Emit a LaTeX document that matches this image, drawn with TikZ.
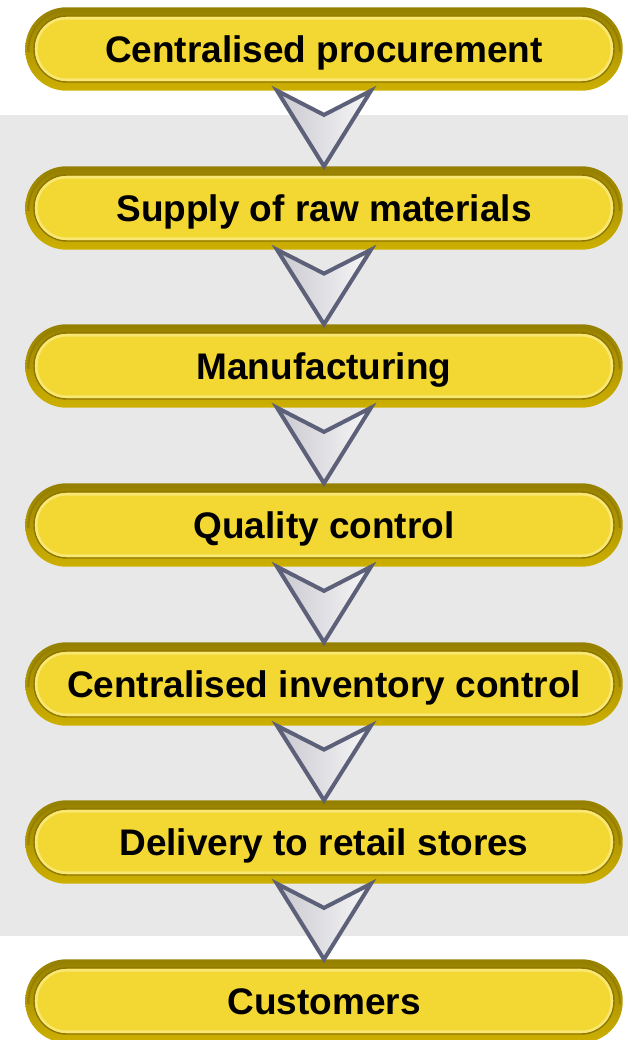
\documentclass[tikz,border=0pt]{standalone}
\usepackage{fontspec}
\setmainfont{Liberation Sans}
\usetikzlibrary{calc,backgrounds}

\definecolor{band}{RGB}{232,232,232}
\definecolor{bodyyellow}{RGB}{243,215,50}
\definecolor{rimdark}{RGB}{150,128,0}
\definecolor{rimmid}{RGB}{240,212,36}
\definecolor{rimlow}{RGB}{206,176,0}
\definecolor{ringline}{RGB}{140,118,6}
\definecolor{glow}{RGB}{250,236,130}
\definecolor{chevedge}{RGB}{92,96,120}
\definecolor{chevlight}{RGB}{248,248,248}
\definecolor{chevshade}{RGB}{200,200,208}

\begin{document}
\begin{tikzpicture}[x=1pt,y=-1pt,
  stepbox/.style={draw=ringline, line width=1.4pt, fill=bodyyellow,
    rounded corners=33pt, minimum width=580pt, minimum height=66pt,
    inner sep=0pt, text height=26.5pt, text depth=0pt,
    font=\fontsize{37pt}{44pt}\selectfont\bfseries, text=black},
  rim/.style={top color=rimdark, middle color=rimmid, bottom color=rimlow,
    rounded corners=41pt},
  rimtop/.style={draw=rimdark, line width=2pt, rounded corners=40pt},
  glowline/.style={draw=glow, line width=2.5pt, rounded corners=30pt, opacity=0.8},
  chev/.style={draw=chevedge, line width=4pt, line join=miter,
    left color=chevshade, right color=chevlight}
]
\useasboundingbox (0,0) rectangle (628,1040);

% process steps
\node[stepbox] (b1) at (324,49)   {Centralised procurement};
\node[stepbox] (b2) at (324,208)  {Supply of raw materials};
\node[stepbox] (b3) at (324,366)  {Manufacturing};
\node[stepbox] (b4) at (324,525)  {Quality control};
\node[stepbox] (b5) at (324,684)  {Centralised inventory control};
\node[stepbox] (b6) at (324,842)  {Delivery to retail stores};
\node[stepbox] (b7) at (324,1001) {Customers};

% grey band and golden rims behind the steps
\begin{scope}[on background layer]
  \fill[band] (0,115) rectangle (628,936);
  \foreach \k in {1,...,7} {
    \shade[rim] ([xshift=-8pt,yshift=-8pt]b\k.south west)
      rectangle ([xshift=8pt,yshift=8pt]b\k.north east);
    % darker lip along the top of the rim
    \draw[rimtop] ([xshift=-5pt,yshift=-3pt]b\k.west)
      -- ([xshift=-5pt,yshift=5pt]b\k.north west)
      -- ([xshift=5pt,yshift=5pt]b\k.north east)
      -- ([xshift=5pt,yshift=-3pt]b\k.east);
  }
\end{scope}

% inner highlight of each step
\foreach \k in {1,...,7}
  \draw[glowline] ([xshift=3pt,yshift=3pt]b\k.south west)
    rectangle ([xshift=-3pt,yshift=-3pt]b\k.north east);

% chevron connectors
\foreach \a/\b in {b1/b2,b2/b3,b3/b4,b4/b5,b5/b6,b6/b7}
  \draw[chev] ([xshift=-47pt,yshift=-8pt]\a.south)
    -- ($([yshift=-8pt]\a.south)!0.32!([yshift=8pt]\b.north)$)
    -- ([xshift=47pt,yshift=-8pt]\a.south)
    -- ([yshift=8pt]\b.north) -- cycle;
\end{tikzpicture}
\end{document}
